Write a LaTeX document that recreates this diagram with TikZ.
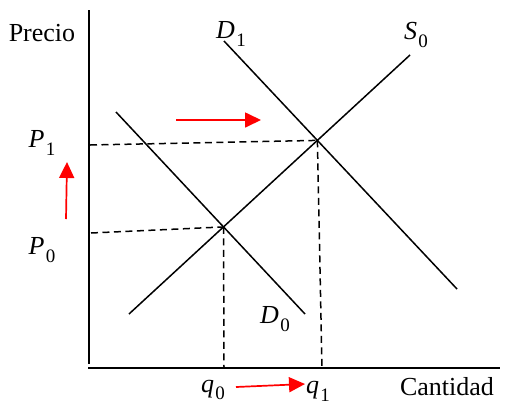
\documentclass[tikz,border=0pt]{standalone}
\usepackage{fontspec}
\setmainfont{Liberation Serif}
\usetikzlibrary{arrows.meta}
\newcommand{\mlab}[2]{\textit{#1}\kern0.05em\raisebox{-0.3em}{\fontsize{19}{19}\selectfont #2}}
\begin{document}
\begin{tikzpicture}[x=1pt,y=-1pt,
  font=\fontsize{26}{30}\selectfont,
  axis/.style={line width=2.6pt},
  curve/.style={line width=1.5pt},
  guide/.style={line width=1.5pt, dash pattern=on 7pt off 4.5pt},
  shiftarrow/.style={red, line width=1.7pt, -{Triangle[length=16pt,width=15pt]}},
  lab/.style={inner sep=0pt, anchor=center},
  wordlab/.style={inner sep=0pt, anchor=base}]
\useasboundingbox (0,0) rectangle (505,405);
% axes
\coordinate (ytop) at (89,10);
\coordinate (ybot) at (89,364);
\coordinate (xl) at (88,368);
\coordinate (xr) at (500,368);
\draw[axis] (ytop) -- (ybot);
\draw[axis] (xl) -- (xr);
% curves
\coordinate (d0a) at (116,112);
\coordinate (d0b) at (305,314);
\coordinate (d1a) at (224,41);
\coordinate (d1b) at (457,289);
\coordinate (s0a) at (129,314);
\coordinate (s0b) at (410,55);
\draw[curve] (d0a) -- (d0b);
\draw[curve] (d1a) -- (d1b);
\draw[curve] (s0a) -- (s0b);
\coordinate (E0) at (intersection of d0a--d0b and s0a--s0b);
\coordinate (E1) at (intersection of d1a--d1b and s0a--s0b);
% guides
\coordinate (p1start) at (90,145);
\coordinate (p0start) at (91,233);
\coordinate (q0end) at (224,368);
\coordinate (q1end) at (322,368);
\draw[guide] (p1start) -- (E1);
\draw[guide] (p0start) -- (E0);
\draw[guide] (E0) -- (q0end);
\draw[guide] (E1) -- (q1end);
% labels
\node[wordlab] (precio) at (42,41) {Precio};
\node[wordlab] (cantidad) at (447,395) {Cantidad};
\node[lab] (P1) at (42,143) {\mlab{P}{1}};
\node[lab] (P0) at (42,250) {\mlab{P}{0}};
\node[lab] (D1) at (231,34) {\mlab{D}{1}};
\node[lab] (S0) at (416,35) {\mlab{S}{0}};
\node[lab] (D0) at (275,319) {\mlab{D}{0}};
\node[lab] (q0) at (213,390) {\mlab{q}{0}};
\node[lab] (q1) at (318,391) {\mlab{q}{1}};
% red arrows
\coordinate (ra1) at (176,120);
\coordinate (ra2) at (261,120);
\coordinate (rb1) at (66,219);
\coordinate (rb2) at (67,162);
\coordinate (rc1) at (236,387);
\coordinate (rc2) at (305,384);
\draw[shiftarrow] (ra1) -- (ra2);
\draw[shiftarrow] (rb1) -- (rb2);
\draw[shiftarrow] (rc1) -- (rc2);
\end{tikzpicture}
\end{document}
